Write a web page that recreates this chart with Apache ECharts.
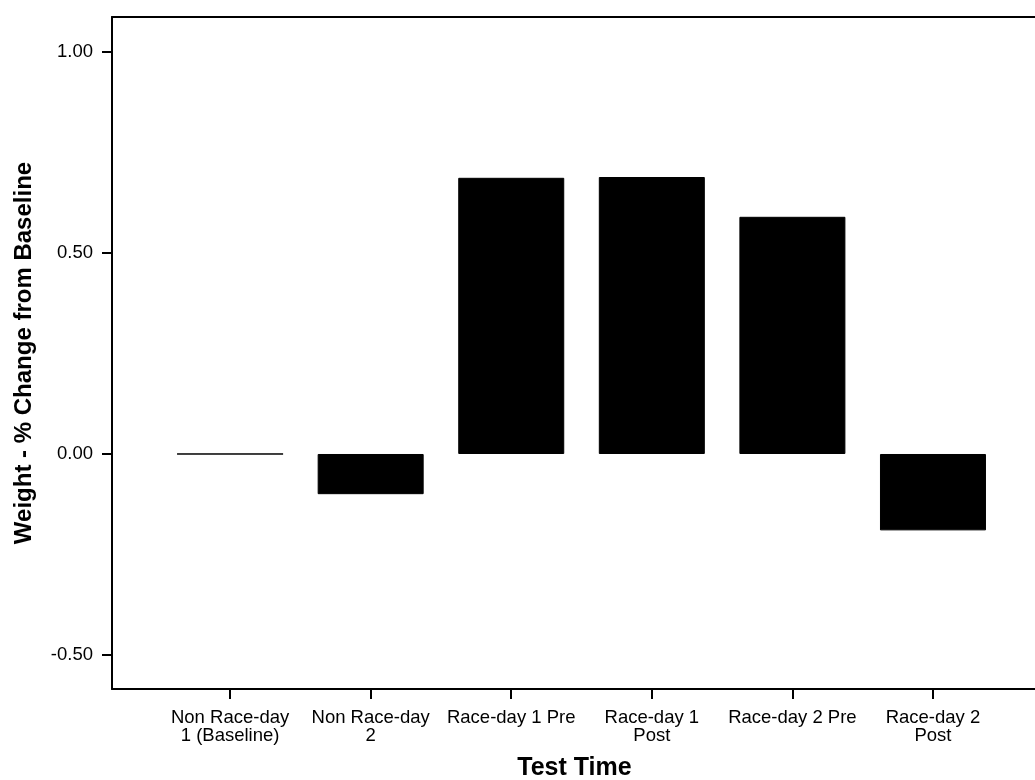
<!DOCTYPE html>
<html>
<head>
<meta charset="utf-8">
<script src="https://cdn.jsdelivr.net/npm/echarts@6/dist/echarts.min.js"></script>
<style>
html,body{margin:0;padding:0;background:#fff;}
#chart{width:1035px;height:780px;}
</style>
</head>
<body>
<div id="chart"></div>
<script>
const categories = [
  "Non Race-day\n1 (Baseline)",
  "Non Race-day\n2",
  "Race-day 1 Pre",
  "Race-day 1\nPost",
  "Race-day 2 Pre",
  "Race-day 2\nPost"
];
const weightChange = [0.00, -0.10, 0.687, 0.689, 0.59, -0.19];
const yTicks = [-0.5, 0, 0.5, 1.0];
const xPositions = [1, 2, 3, 4, 5, 6];

const font = 'Arial, "Liberation Sans", sans-serif';
const chart = echarts.init(document.getElementById('chart'), null, {renderer: 'canvas'});
chart.setOption({
  animation: false,
  backgroundColor: '#ffffff',
  grid: {left: 112, right: -2, top: 17, bottom: 91, containLabel: false, outerBoundsMode: 'none'},
  xAxis: [{
    type: 'value',
    min: 0.16,
    max: 6.74,
    position: 'bottom',
    name: 'Test Time',
    nameLocation: 'middle',
    nameGap: 67,
    nameTextStyle: {fontFamily: font, fontWeight: 'bold', fontSize: 25, color: '#000'},
    axisLine: {show: true, onZero: false, lineStyle: {color: '#000', width: 2}},
    axisTick: {show: true, length: 10, customValues: xPositions, lineStyle: {color: '#000', width: 2}},
    axisLabel: {
      customValues: xPositions,
      margin: 20,
      fontFamily: font, fontSize: 18.5, color: '#000', lineHeight: 18, align: 'center',
      formatter: v => categories[Math.round(v) - 1]
    },
    splitLine: {show: false}
  }, {
    type: 'value',
    min: 0.16,
    max: 6.74,
    position: 'top',
    axisLine: {show: true, onZero: false, lineStyle: {color: '#000', width: 2}},
    axisTick: {show: false},
    axisLabel: {show: false},
    splitLine: {show: false}
  }],
  yAxis: {
    type: 'value',
    min: -0.5846,
    max: 1.087,
    name: 'Weight - % Change from Baseline',
    nameLocation: 'middle',
    nameGap: 76,
    nameTextStyle: {fontFamily: font, fontWeight: 'bold', fontSize: 24, color: '#000'},
    axisLine: {show: true, lineStyle: {color: '#000', width: 2}},
    axisTick: {show: true, length: 10, customValues: yTicks, lineStyle: {color: '#000', width: 2}},
    axisLabel: {
      customValues: yTicks,
      margin: 19,
      fontFamily: font, fontSize: 18.5, color: '#000',
      formatter: v => v.toFixed(2)
    },
    splitLine: {show: false}
  },
  series: [{
    type: 'bar',
    xAxisIndex: 0,
    barWidth: 106,
    itemStyle: {color: '#000', borderColor: '#000', borderWidth: 1},
    data: xPositions.map((x, i) => [x, weightChange[i]])
  }]
});
</script>
</body>
</html>
